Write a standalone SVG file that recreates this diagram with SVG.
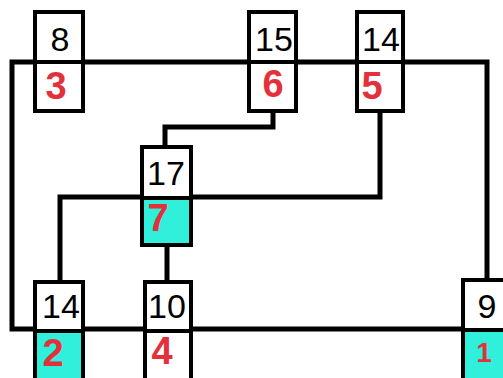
<svg xmlns="http://www.w3.org/2000/svg" width="503" height="378" viewBox="0 0 503 378">
<style>
.cell{fill:#fff;stroke:#000;stroke-width:4}
.cy{fill:#30f0dc;stroke:#000;stroke-width:4}
.num{font-family:"Liberation Sans",Arial,sans-serif;font-size:34px;fill:#000;text-anchor:middle}
.red{font-family:"Liberation Sans",Arial,sans-serif;font-size:38px;font-weight:bold;fill:#e3313c;text-anchor:middle}
.ln{fill:none;stroke:#000;stroke-width:5}
</style>
<rect width="503" height="378" fill="#fff"/>
<g id="connectors">
<path class="ln" d="M487 280 V62 H12 V329 H463"/>
<path class="ln" d="M273 111 V127 H165 V147"/>
<path class="ln" d="M380 111 V197 H60 V282"/>
<path class="ln" d="M167 245 V282"/>
</g>
<g id="n8">
<rect class="cell" x="35" y="12" width="48" height="50"/>
<rect class="cell" x="35" y="62" width="48" height="49"/>
<text class="num" x="60" y="51">8</text>
<text class="red" x="56" y="99">3</text>
</g>
<g id="n15">
<rect class="cell" x="249" y="12" width="47" height="50"/>
<rect class="cell" x="249" y="62" width="47" height="49"/>
<text class="num" x="274" y="51">15</text>
<text class="red" x="273" y="97">6</text>
</g>
<g id="n14a">
<rect class="cell" x="357" y="12" width="46" height="50"/>
<rect class="cell" x="357" y="62" width="46" height="49"/>
<text class="num" x="381" y="51">14</text>
<text class="red" x="372" y="99">5</text>
</g>
<g id="n17">
<rect class="cell" x="142" y="147" width="49" height="51"/>
<rect class="cy" x="142" y="198" width="49" height="47"/>
<text class="num" x="166" y="185">17</text>
<text class="red" x="158" y="231">7</text>
</g>
<g id="n14b">
<rect class="cell" x="35" y="282" width="48" height="49"/>
<rect class="cy" x="35" y="331" width="48" height="52"/>
<text class="num" x="61" y="318">14</text>
<text class="red" x="53" y="366">2</text>
</g>
<g id="n10">
<rect class="cell" x="145" y="282" width="46" height="49"/>
<rect class="cell" x="145" y="331" width="46" height="52"/>
<text class="num" x="167" y="318">10</text>
<text class="red" x="162" y="364">4</text>
</g>
<g id="n9">
<rect class="cell" x="463" y="280" width="50" height="50"/>
<rect class="cy" x="463" y="330" width="50" height="53"/>
<text class="num" x="487" y="318">9</text>
<text class="red" x="484" y="362" style="font-size:28px">1</text>
</g>
</svg>
